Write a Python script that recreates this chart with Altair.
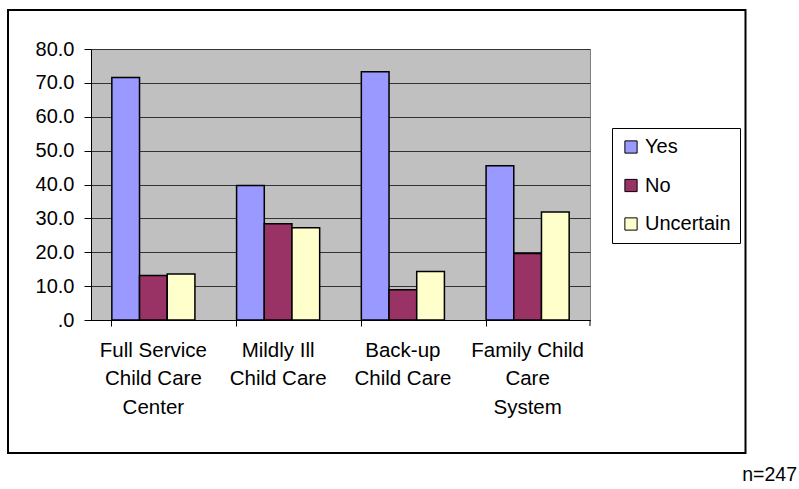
import altair as alt
import pandas as pd

categories = ["Full Service\nChild Care\nCenter", "Mildly Ill\nChild Care",
              "Back-up\nChild Care", "Family Child\nCare\nSystem"]
series = ["Yes", "No", "Uncertain"]
yes_vals = [71.6, 39.7, 73.3, 45.5]
no_vals = [13.1, 28.4, 8.9, 19.6]
unc_vals = [13.6, 27.2, 14.3, 31.9]
colors = ["#9999FF", "#993366", "#FFFFCC"]
y_ticks = [0, 10, 20, 30, 40, 50, 60, 70, 80]
note = "n=247"

rows = []
for i, c in enumerate(categories):
    for s, vals in zip(series, [yes_vals, no_vals, unc_vals]):
        rows.append({"category": c, "series": s, "value": vals[i]})
df = pd.DataFrame(rows)

W, H = 499, 271
FONT = "Liberation Sans"

bars = alt.Chart(df).mark_bar(stroke="black", strokeWidth=1.5).encode(
    x=alt.X("category:N", sort=categories, title=None,
            scale=alt.Scale(paddingInner=0.334, paddingOuter=0.167),
            axis=alt.Axis(labelAngle=0, labelExpr="split(datum.label, '\\n')",
                          labelFontSize=20.5, labelFont=FONT, labelColor="black",
                          labelLineHeight=28.5, labelPadding=14, tickSize=6,
                          tickColor="black", domainColor="black", bandPosition=0,
                          labelBaseline="top", grid=False)),
    xOffset=alt.XOffset("series:N", sort=series,
                        scale=alt.Scale(paddingInner=0, paddingOuter=0)),
    y=alt.Y("value:Q", title=None,
            scale=alt.Scale(domain=[0, 80], nice=False),
            axis=alt.Axis(values=y_ticks,
                          labelExpr="datum.value == 0 ? '.0' : format(datum.value, '.1f')",
                          labelFontSize=20, labelFont=FONT, labelColor="black",
                          labelPadding=10, tickSize=7, tickColor="black",
                          domainColor="black", grid=True, gridColor="#333333",
                          gridWidth=1)),
    color=alt.Color("series:N", sort=series,
                    scale=alt.Scale(domain=series, range=colors),
                    legend=alt.Legend(title=None, orient="none", legendX=521, legendY=79,
                                      symbolType="square", symbolSize=150,
                                      symbolStrokeColor="black", symbolStrokeWidth=1,
                                      labelFontSize=20, labelFont=FONT, labelColor="black",
                                      rowPadding=18.5, strokeColor="black", fillColor="white",
                                      padding=9, labelOffset=4)),
)

end_tick = alt.Chart(pd.DataFrame({"a": [0]})).mark_rule(color="black").encode(
    x=alt.value(W), y=alt.value(H), y2=alt.value(H + 6))

border = alt.Chart(pd.DataFrame({"a": [0]})).mark_rect(
    fill=None, stroke="black", strokeWidth=2).encode(
    x=alt.value(-83), x2=alt.value(654.5), y=alt.value(-39), y2=alt.value(404))

note_text = alt.Chart(pd.DataFrame({"t": [note]})).mark_text(
    align="right", baseline="alphabetic", fontSize=19.5, font=FONT, color="black").encode(
    text="t:N", x=alt.value(706), y=alt.value(432))

chart = alt.layer(bars, end_tick, border, note_text).properties(
    width=W, height=H,
    autosize=alt.AutoSizeParams(type="none"),
    padding={"left": 91, "top": 49, "right": 209, "bottom": 169},
    background="white",
).configure_view(fill="#C0C0C0", stroke="#808080", strokeWidth=1)

chart.save("out.html", embed_options={"renderer": "svg", "actions": False})
